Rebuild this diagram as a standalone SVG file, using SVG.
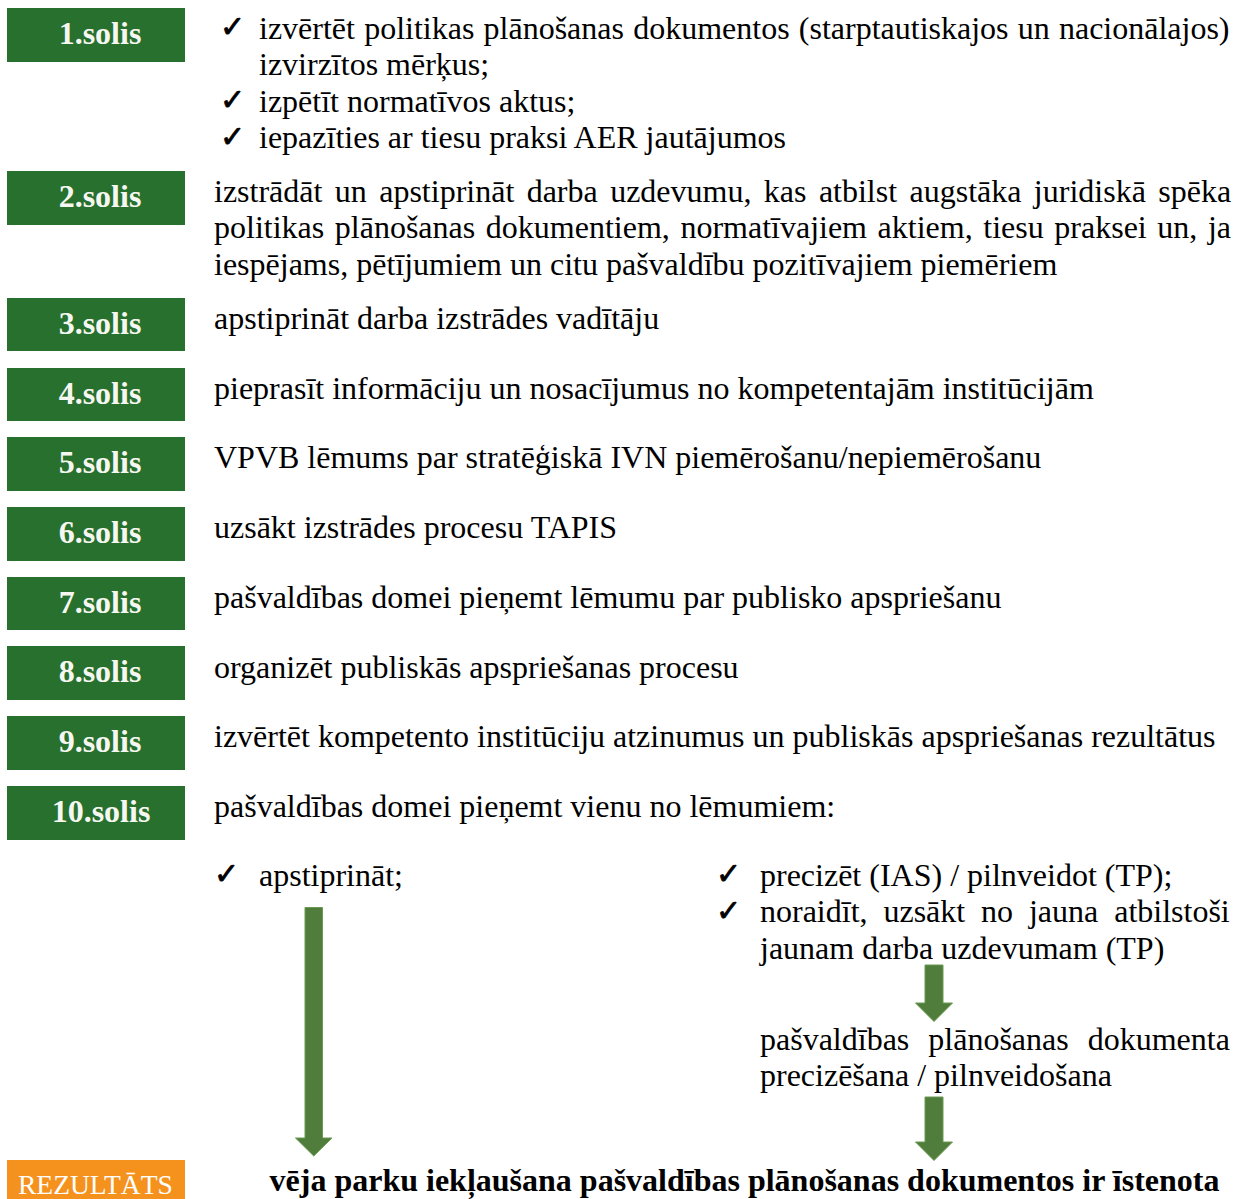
<svg xmlns="http://www.w3.org/2000/svg" width="1235" height="1199" viewBox="0 0 1235 1199">
<style>
.box{fill:#27702D}
.lbl{font-family:"Liberation Serif","Times New Roman",serif;font-size:32px;font-weight:bold;fill:#F7F7F2;text-anchor:middle}
.t{font-family:"Liberation Serif","Times New Roman",serif;font-size:32px;fill:#000}
.chk{font-family:"DejaVu Sans",sans-serif;font-size:30px;fill:#000;stroke:#000;stroke-width:0.8}
.res{fill:#F5921E}
.reslbl{font-family:"Liberation Serif","Times New Roman",serif;font-size:27.5px;fill:#FFFFFF}
.fin{font-family:"Liberation Serif","Times New Roman",serif;font-size:32px;font-weight:bold;fill:#000;text-anchor:middle}
.arr{fill:#507D3B;stroke:#6A9A52;stroke-width:1}
</style>
<rect width="1235" height="1199" fill="#FFFFFF"/>

<g id="step1">
<rect class="box" x="7" y="8" width="178" height="54"/>
<text class="lbl" x="100" y="44">1.solis</text>
<text class="chk" x="220" y="37">✓</text>
<text class="t" x="259" y="38.5" word-spacing="1.2">izvērtēt politikas plānošanas dokumentos (starptautiskajos un nacionālajos)</text>
<text class="t" x="259" y="75">izvirzītos mērķus;</text>
<text class="chk" x="220" y="110">✓</text>
<text class="t" x="259" y="111.5">izpētīt normatīvos aktus;</text>
<text class="chk" x="220" y="147">✓</text>
<text class="t" x="259" y="148">iepazīties ar tiesu praksi AER jautājumos</text>
</g>

<g id="step2">
<rect class="box" x="7" y="171" width="178" height="54"/>
<text class="lbl" x="100" y="207">2.solis</text>
<text class="t" x="214" y="201.5" word-spacing="4.4">izstrādāt un apstiprināt darba uzdevumu, kas atbilst augstāka juridiskā spēka</text>
<text class="t" x="214" y="238" word-spacing="2.6">politikas plānošanas dokumentiem, normatīvajiem aktiem, tiesu praksei un, ja</text>
<text class="t" x="214" y="274.5">iespējams, pētījumiem un citu pašvaldību pozitīvajiem piemēriem</text>
</g>

<g id="step3">
<rect class="box" x="7" y="298" width="178" height="53"/>
<text class="lbl" x="100" y="334">3.solis</text>
<text class="t" x="214" y="328.5">apstiprināt darba izstrādes vadītāju</text>
</g>

<g id="step4">
<rect class="box" x="7" y="368" width="178" height="53"/>
<text class="lbl" x="100" y="404">4.solis</text>
<text class="t" x="214" y="398.5">pieprasīt informāciju un nosacījumus no kompetentajām institūcijām</text>
</g>

<g id="step5">
<rect class="box" x="7" y="437" width="178" height="54"/>
<text class="lbl" x="100" y="473">5.solis</text>
<text class="t" x="214" y="467.5">VPVB lēmums par stratēģiskā IVN piemērošanu/nepiemērošanu</text>
</g>

<g id="step6">
<rect class="box" x="7" y="507" width="178" height="54"/>
<text class="lbl" x="100" y="543">6.solis</text>
<text class="t" x="214" y="537.5">uzsākt izstrādes procesu TAPIS</text>
</g>

<g id="step7">
<rect class="box" x="7" y="577" width="178" height="53"/>
<text class="lbl" x="100" y="613">7.solis</text>
<text class="t" x="214" y="607.5">pašvaldības domei pieņemt lēmumu par publisko apspriešanu</text>
</g>

<g id="step8">
<rect class="box" x="7" y="646" width="178" height="54"/>
<text class="lbl" x="100" y="682">8.solis</text>
<text class="t" x="214" y="677.5">organizēt publiskās apspriešanas procesu</text>
</g>

<g id="step9">
<rect class="box" x="7" y="716" width="178" height="54"/>
<text class="lbl" x="100" y="752">9.solis</text>
<text class="t" x="214" y="746.5">izvērtēt kompetento institūciju atzinumus un publiskās apspriešanas rezultātus</text>
</g>

<g id="step10">
<rect class="box" x="7" y="786" width="178" height="54"/>
<text class="lbl" x="101" y="822">10.solis</text>
<text class="t" x="214" y="816.5">pašvaldības domei pieņemt vienu no lēmumiem:</text>
</g>

<g id="option-approve">
<text class="chk" x="214" y="884">✓</text>
<text class="t" x="259" y="885.5">apstiprināt;</text>
</g>

<g id="option-revise">
<text class="chk" x="716" y="884">✓</text>
<text class="t" x="760" y="885.5">precizēt (IAS) / pilnveidot (TP);</text>
<text class="chk" x="716" y="921">✓</text>
<text class="t" x="760" y="922" word-spacing="7.9">noraidīt, uzsākt no jauna atbilstoši</text>
<text class="t" x="760" y="958.5">jaunam darba uzdevumam (TP)</text>
</g>

<g id="refinement">
<text class="t" x="760" y="1049.5" word-spacing="11">pašvaldības plānošanas dokumenta</text>
<text class="t" x="760" y="1085.5">precizēšana / pilnveidošana</text>
</g>

<g id="result">
<rect class="res" x="7" y="1160" width="178" height="45"/>
<text class="reslbl" x="18" y="1194">REZULTĀTS</text>
<text class="fin" x="744.5" y="1191">vēja parku iekļaušana pašvaldības plānošanas dokumentos ir īstenota</text>
</g>

<g id="connectors">
<path class="arr" d="M305,907.5 H322.5 V1138 H332 L313.75,1156 L295.5,1138 H305 Z"/>
<path class="arr" d="M925,965 H943 V1003 H952.5 L934,1021.5 L915.5,1003 H925 Z"/>
<path class="arr" d="M925,1097 H943 V1142 H952.5 L934,1160.5 L915.5,1142 H925 Z"/>
</g>
</svg>
